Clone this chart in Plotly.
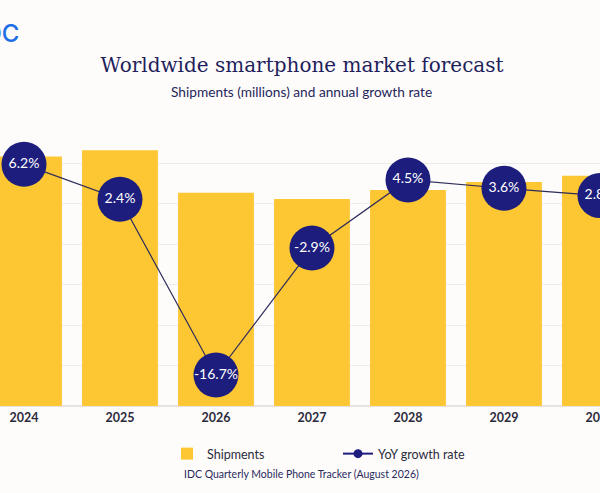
#!/usr/bin/env python3
"""
Worldwide smartphone market forecast: shipments and YoY growth
"""

import plotly.graph_objects as go

# Data
years = ["2024", "2025", "2026", "2027", "2028", "2029", "2030"]
shipments = [1233, 1263, 1053, 1022, 1067, 1106, 1138]  # millions
growth = [6.2, 2.4, -16.7, -2.9, 4.5, 3.6, 2.8]  # percent
growth_labels = [f"{g:.1f}%" for g in growth]

title_text = "Worldwide smartphone market forecast"
subtitle_text = "Shipments (millions) and annual growth rate"
source_text = "IDC Quarterly Mobile Phone Tracker (August 2026)"

BG = "#fdfcfa"
YELLOW = "#fcc733"
NAVY = "#1c1d7c"
LINE = "#2d2b5a"
SANS = "Lato, Inter, sans-serif"

FIG_W, FIG_H = 600, 493
PLOT_TOP, PLOT_BOTTOM = 122, 406
PLOT_H = PLOT_BOTTOM - PLOT_TOP


def paper_y(px: float) -> float:
    return (PLOT_BOTTOM - px) / PLOT_H


def paper_x(px: float) -> float:
    return px / FIG_W


def build_figure() -> go.Figure:
    figure = go.Figure()
    figure.add_trace(
        go.Bar(
            x=years,
            y=shipments,
            name="Shipments",
            marker={"color": YELLOW, "line": {"width": 0}},
            hoverinfo="x+y",
        )
    )
    figure.add_trace(
        go.Scatter(
            x=years,
            y=growth,
            yaxis="y2",
            mode="lines+markers+text",
            text=growth_labels,
            textposition="middle center",
            textfont={"family": SANS, "size": 14, "color": "white"},
            line={"color": LINE, "width": 1.2},
            marker={"color": NAVY, "size": 45},
            showlegend=False,
            cliponaxis=False,
        )
    )
    # legend entry for the growth line, drawn at legend size
    figure.add_trace(
        go.Scatter(
            x=[None],
            y=[None],
            yaxis="y2",
            mode="lines+markers",
            name="YoY growth rate",
            line={"color": NAVY, "width": 2},
            marker={"color": NAVY, "size": 9},
        )
    )

    figure.update_layout(
        width=FIG_W,
        height=FIG_H,
        margin={"l": 0, "r": 0, "t": PLOT_TOP, "b": FIG_H - PLOT_BOTTOM, "autoexpand": False},
        paper_bgcolor=BG,
        plot_bgcolor=BG,
        bargap=0.21,
        font={"family": SANS, "color": "#2b2b3d"},
        title={
            "text": title_text,
            "x": paper_x(302),
            "xanchor": "center",
            "y": 1 - 65 / FIG_H,
            "yanchor": "middle",
            "font": {"family": "'DejaVu Serif', serif", "size": 20, "color": "#1f1f5c"},
        },
        xaxis={
            # window is cut through the 2024 and 2030 columns;
            # the 2030 point sits on the range end so it is still drawn
            "type": "category",
            "range": [-0.25, 6.0005],
            "automargin": False,
            "ticklabeloverflow": "allow",
            "showgrid": False,
            "showline": False,
            "ticks": "",
            "ticklabelstandoff": 2,
            "tickfont": {"family": SANS, "size": 12.5, "color": "#2b2b3d", "weight": 700},
        },
        yaxis={
            "range": [0, 1403],
            "tickvals": [0, 200, 400, 600, 800, 1000, 1200, 1400],
            "showticklabels": False,
            "gridcolor": "#ececea",
            "gridwidth": 1,
            "zeroline": True,
            "zerolinecolor": "#e4e4e2",
            "fixedrange": True,
        },
        yaxis2={
            "overlaying": "y",
            "range": [-20.07, 10.8],
            "showgrid": False,
            "showticklabels": False,
            "zeroline": False,
        },
        legend={
            "orientation": "h",
            "x": paper_x(167),
            "xanchor": "left",
            "y": paper_y(454),
            "yanchor": "middle",
            "font": {"family": SANS, "size": 12.5, "color": "#2b2b3d"},
            "bgcolor": "rgba(0,0,0,0)",
            "itemwidth": 30,
            "entrywidth": 126,
            "traceorder": "normal",
        },
        showlegend=True,
        annotations=[
            {
                "text": subtitle_text,
                "xref": "paper",
                "yref": "paper",
                "x": paper_x(301),
                "y": paper_y(92),
                "xanchor": "center",
                "yanchor": "middle",
                "showarrow": False,
                "font": {"family": SANS, "size": 13.7, "color": "#26265a"},
            },
            {
                "text": source_text,
                "xref": "paper",
                "yref": "paper",
                "x": paper_x(301),
                "y": paper_y(474),
                "xanchor": "center",
                "yanchor": "middle",
                "showarrow": False,
                "font": {"family": SANS, "size": 10.5, "color": "#2a2a5e"},
            },
            {
                "text": "IDC",
                "xref": "paper",
                "yref": "paper",
                "x": paper_x(21),
                "y": paper_y(33),
                "xanchor": "right",
                "yanchor": "middle",
                "showarrow": False,
                "font": {"family": "Inter, sans-serif", "size": 24, "color": "#1e6fe6", "weight": 500},
            },
        ],
    )
    return figure


fig = build_figure()
# flush with the window; the 2030 column is clipped at the figure's right edge
fig.write_html(
    "out.html",
    config={"displayModeBar": False},
    post_script=(
        "document.body.style.margin = '0';"
        "document.body.style.overflow = 'hidden';"
        "document.getElementById('{plot_id}').style.overflow = 'hidden';"
    ),
)
